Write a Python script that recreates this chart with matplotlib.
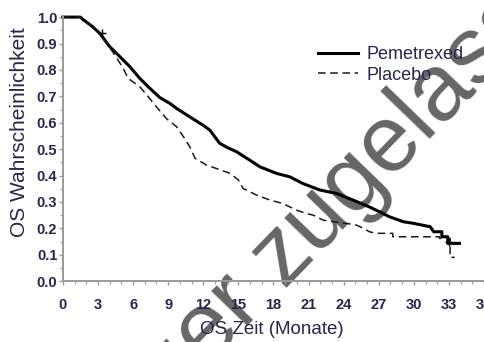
import numpy as np
import matplotlib.pyplot as plt
from matplotlib.ticker import MultipleLocator

# Kaplan-Meier Kurven (Monate, Ueberlebenswahrscheinlichkeit)
months_pem = [0, 1.5, 1.74, 2.5, 3.16, 4.0, 4.87, 5.73, 6.57, 7.44, 8.29, 9.15, 9.72,
              10.85, 12.0, 12.56, 13.4, 14.1, 14.85, 15.98, 16.84, 18.26, 19.4, 20.5,
              21.97, 23.4, 24.8, 26.2, 27.1, 27.9, 29.1, 29.95, 31.4, 31.7, 32.4,
              32.4, 32.9, 32.9, 33.9]
surv_pem = [1.0, 1.0, 0.99, 0.965, 0.938, 0.888, 0.85, 0.812, 0.768, 0.73, 0.695,
            0.673, 0.654, 0.622, 0.59, 0.572, 0.522, 0.505, 0.49, 0.458, 0.433, 0.408,
            0.395, 0.37, 0.345, 0.332, 0.307, 0.281, 0.262, 0.244, 0.225, 0.219, 0.206,
            0.187, 0.187, 0.168, 0.168, 0.143, 0.143]

months_pla = [0, 1.5, 1.74, 2.5, 3.16, 4.0, 4.6, 5.15, 5.58, 6.58, 7.3, 8.0, 8.86,
              9.72, 10.3, 10.85, 11.3, 12.3, 13.1, 14.3, 15.0, 15.4, 16.55, 17.7, 18.8,
              19.4, 19.97, 20.8, 21.4, 22.25, 23.1, 24.2, 25.1, 25.7, 26.2, 26.8, 28.2,
              28.2, 32.2, 32.2, 33.1, 33.1, 33.5]
surv_pla = [1.0, 1.0, 0.99, 0.965, 0.935, 0.885, 0.845, 0.806, 0.768, 0.736, 0.698,
            0.66, 0.615, 0.585, 0.547, 0.509, 0.465, 0.439, 0.427, 0.408, 0.383, 0.351,
            0.326, 0.307, 0.294, 0.281, 0.269, 0.256, 0.25, 0.231, 0.225, 0.219, 0.212,
            0.2, 0.187, 0.181, 0.181, 0.168, 0.168, 0.162, 0.162, 0.09, 0.09]

# Zensierungen
censor_t = [3.3, 33.0]
censor_s = [0.94, 0.148]

x_ticks = list(range(0, 37, 3))
y_ticks = [0.0, 0.1, 0.2, 0.3, 0.4, 0.5, 0.6, 0.7, 0.8, 0.9, 1.0]

plt.rcParams['font.family'] = ['Liberation Sans', 'DejaVu Sans']
txt_col = '#26264f'
ax_col = '#9a9a9a'

fig = plt.figure(figsize=(4.84, 3.42), dpi=100)
ax = fig.add_axes([0.130, 0.178, 0.870, 0.772])
ax.patch.set_alpha(0)

# Wasserzeichen (zwei Teile, am Beginn von "zugelassen" verankert)
wm = dict(rotation=46, rotation_mode='anchor', va='baseline', fontsize=68,
          color='#666666', zorder=-1)
fig.text(0.5475, 0.1023, 'Arzneimittel nicht länger', ha='right', **wm)
fig.text(0.5847, 0.1579, 'zugelassen', ha='left', **wm)

ax.plot(months_pem, surv_pem, color='black', lw=2.2, label='Pemetrexed', clip_on=False)
ax.plot(months_pla, surv_pla, color='#1a1a1a', lw=1.1, dashes=(5, 3), label='Placebo',
        clip_on=False)
ax.plot(censor_t, censor_s, ls='none', marker='+', ms=6, mew=1, color='black')

ax.set_xlim(0, 36)
ax.set_ylim(0, 1.0)
for s in ['top', 'right']:
    ax.spines[s].set_visible(False)
for s in ['left', 'bottom']:
    ax.spines[s].set_color(ax_col)
    ax.spines[s].set_linewidth(1.4)

ax.set_xticks(x_ticks)
ax.set_xticklabels([str(v) for v in x_ticks])
ax.set_yticks(y_ticks)
ax.set_yticklabels([f'{v:.1f}' for v in y_ticks])
ax.xaxis.set_minor_locator(MultipleLocator(1))
ax.yaxis.set_minor_locator(MultipleLocator(0.05))
ax.tick_params(which='major', length=3, width=1, color=ax_col, labelcolor=txt_col)
ax.tick_params(which='minor', length=2.5, width=0.8, color=ax_col)
ax.tick_params(axis='x', pad=9)
ax.tick_params(axis='y', pad=1)
for lab in ax.get_xticklabels() + ax.get_yticklabels():
    lab.set_family(['Liberation Sans Narrow', 'Liberation Sans'])
    lab.set_fontweight('bold')
    lab.set_fontsize(10.5)

fig.text(272 / 484, 1 - 329 / 342, 'OS Zeit (Monate)', ha='center', va='center',
         fontsize=13.5, color=txt_col)
fig.text(20 / 484, 1 - 132 / 342, 'OS Wahrscheinlichkeit', rotation=90, ha='center',
         va='center', fontsize=15, color=txt_col)

leg = ax.legend(loc='upper left', bbox_to_anchor=(318 / 484, 1 - 46 / 342),
                bbox_transform=fig.transFigure, frameon=False, fontsize=13,
                handlelength=2.2, handletextpad=0.5, labelspacing=0.2, borderpad=0,
                borderaxespad=0)
for t in leg.get_texts():
    t.set_color(txt_col)

fig.savefig('out.png', dpi=100)
